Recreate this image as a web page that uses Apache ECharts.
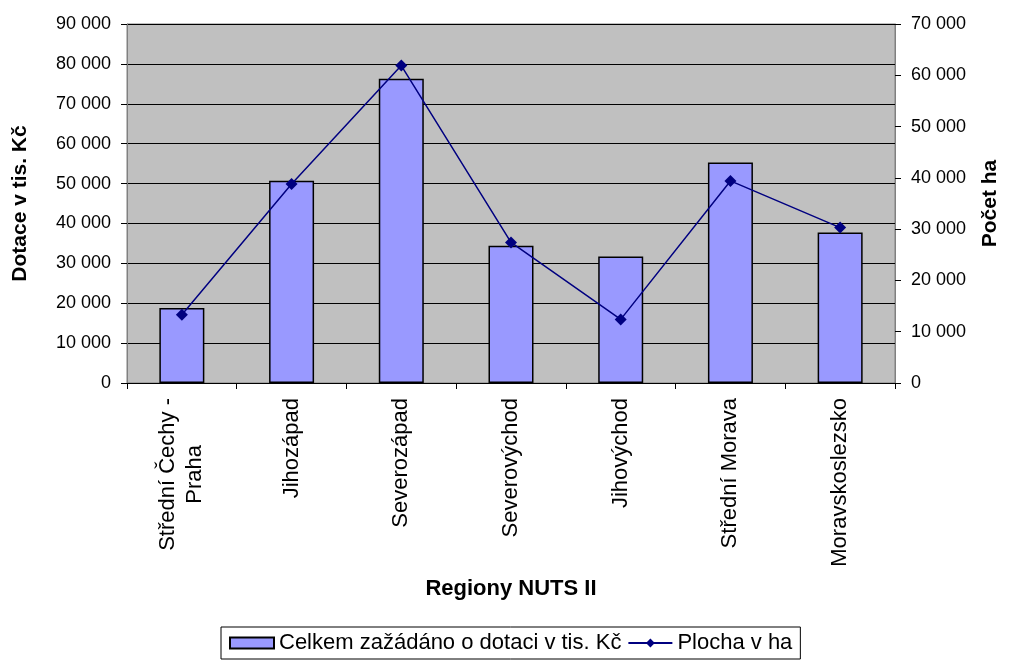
<!DOCTYPE html>
<html>
<head>
<meta charset="utf-8">
<script src="https://cdn.jsdelivr.net/npm/echarts@6/dist/echarts.min.js"></script>
<style>
  html, body { margin: 0; padding: 0; background: #fff; }
  #chart { width: 1009px; height: 662px; }
</style>
</head>
<body>
<div id="chart"></div>
<script>
const regiony = ['Střední Čechy -\nPraha', 'Jihozápad', 'Severozápad', 'Severovýchod', 'Jihovýchod', 'Střední Morava', 'Moravskoslezsko'];
const dotace = [18800, 50700, 76300, 34400, 31700, 55300, 37700];
const plocha = [13300, 38800, 61900, 27400, 12400, 39400, 30300];

const fontFamily = '"Liberation Sans", Arial, sans-serif';

// 90000 -> "90 000"
function mezery(v) {
  return String(v).replace(/\B(?=(\d{3})+(?!\d))/g, ' ');
}

const chart = echarts.init(document.getElementById('chart'));

chart.setOption({
  animation: false,
  textStyle: { fontFamily: fontFamily },
  grid: {
    left: 127, right: 112, top: 24, bottom: 279,
    show: true,
    backgroundColor: '#c0c0c0',
    borderColor: '#808080',
    borderWidth: 1
  },
  legend: {
    bottom: 3,
    left: 221,
    borderColor: '#000',
    borderWidth: 1,
    padding: [5, 8],
    itemGap: 6,
    itemWidth: 44,
    itemHeight: 11,
    textStyle: { fontSize: 22, color: '#000', fontFamily: fontFamily },
    data: [
      { name: 'Celkem zažádáno o dotaci v tis. Kč', icon: 'rect' },
      'Plocha v ha'
    ]
  },
  xAxis: {
    type: 'category',
    data: regiony,
    name: 'Regiony NUTS II',
    nameLocation: 'middle',
    nameGap: 195,
    nameTextStyle: { fontSize: 22, fontWeight: 'bold', color: '#000' },
    axisLine: { lineStyle: { color: '#000' } },
    axisTick: { show: true, inside: false, length: 6, lineStyle: { color: '#000' } },
    axisLabel: {
      rotate: 90,
      margin: 15,
      fontSize: 22,
      color: '#000',
      formatter: function (v) {
        if (v.indexOf('\n') < 0) return v;
        const p = v.split('\n');
        return '{a|' + p[0] + '}\n{b|' + p[1] + '}';
      },
      rich: {
        a: { fontSize: 22, lineHeight: 27, color: '#000', fontFamily: fontFamily },
        b: { fontSize: 22, lineHeight: 27, color: '#000', fontFamily: fontFamily, align: 'center' }
      }
    }
  },
  yAxis: [
    {
      type: 'value',
      min: 0, max: 90000, interval: 10000,
      name: 'Dotace v tis. Kč',
      nameLocation: 'middle',
      nameGap: 96,
      nameTextStyle: { fontSize: 21, fontWeight: 'bold', color: '#000' },
      axisLine: { show: true, lineStyle: { color: '#808080' } },
      axisTick: { show: true, inside: false, length: 6, lineStyle: { color: '#000' } },
      axisLabel: { margin: 16, fontSize: 18, color: '#000', formatter: mezery },
      splitLine: { show: true, lineStyle: { color: '#000', width: 1 } }
    },
    {
      type: 'value',
      min: 0, max: 70000, interval: 10000,
      name: 'Počet ha',
      nameLocation: 'middle',
      nameGap: 85,
      nameTextStyle: { fontSize: 21, fontWeight: 'bold', color: '#000' },
      axisLine: { show: true, lineStyle: { color: '#808080' } },
      axisTick: { show: true, inside: false, length: 6, lineStyle: { color: '#000' } },
      axisLabel: { margin: 16, fontSize: 18, color: '#000', formatter: mezery },
      splitLine: { show: false }
    }
  ],
  series: [
    {
      name: 'Celkem zažádáno o dotaci v tis. Kč',
      type: 'bar',
      yAxisIndex: 0,
      barWidth: 45,
      itemStyle: { color: '#9999ff', borderColor: '#000', borderWidth: 1.5 },
      data: dotace
    },
    {
      name: 'Plocha v ha',
      type: 'line',
      yAxisIndex: 1,
      symbol: 'diamond',
      symbolSize: 12,
      lineStyle: { color: '#000080', width: 1.5 },
      itemStyle: { color: '#000080' },
      data: plocha
    }
  ]
});
</script>
</body>
</html>
